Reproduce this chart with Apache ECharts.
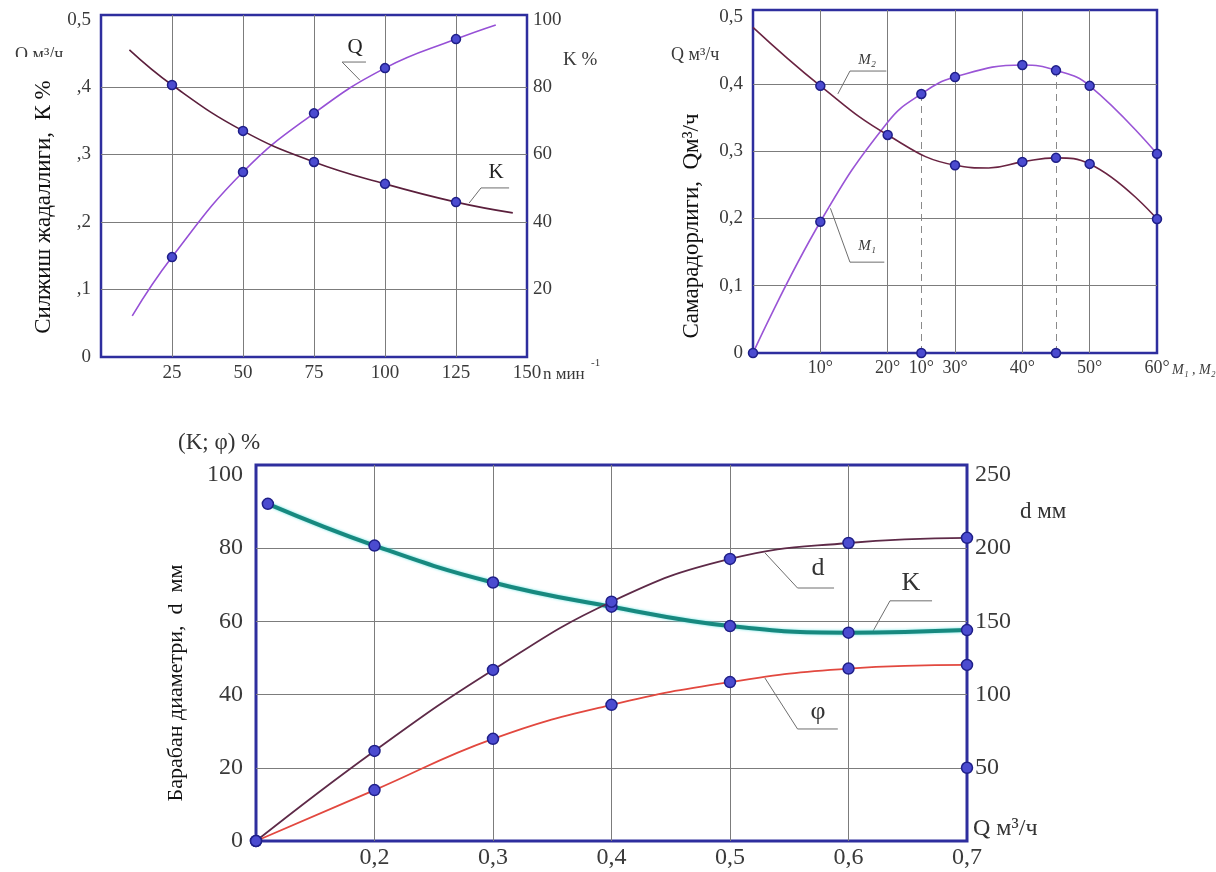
<!DOCTYPE html>
<html>
<head>
<meta charset="utf-8">
<script src="https://cdn.jsdelivr.net/npm/echarts@6/dist/echarts.min.js"></script>
<style>
html,body{margin:0;padding:0;background:#fff}
#c{width:1216px;height:872px}
</style>
</head>
<body>
<div id="c"></div>
<script>
// ---------- Chart 1 (top-left): n, Q and K ----------
const c1_n_Q = [11, 25, 50, 75, 100, 125, 139];
const c1_Q = [0.061, 0.148, 0.274, 0.361, 0.428, 0.471, 0.492];
const c1_Q_marks = [0, 1, 1, 1, 1, 1, 0];
const c1_n_K = [10, 25, 50, 75, 100, 125, 145];
const c1_K = [91, 80.6, 67, 57.8, 51.3, 45.9, 42.7];
const c1_K_marks = [0, 1, 1, 1, 1, 1, 0];
const c1_leaderQ = [[91.2, 0.41], [84.9, 0.437], [93.3, 0.437]];
const c1_leaderK = [[129.6, 45.6], [133.8, 50.1], [143.7, 50.1]];

// ---------- Chart 2 (top-right): angles M1, M2 ----------
const c2_deg_M1 = [0, 10, 20, 25, 30, 40, 45, 50, 60];
const c2_M1 = [0, 0.195, 0.343, 0.385, 0.41, 0.428, 0.42, 0.397, 0.296];
const c2_M1_marks = [1, 1, 0, 1, 1, 1, 1, 1, 1];
const c2_deg_M2 = [0, 10, 20, 30, 35, 40, 45, 50, 60];
const c2_M2 = [0.484, 0.397, 0.324, 0.279, 0.275, 0.284, 0.29, 0.281, 0.199];
const c2_M2_marks = [0, 1, 1, 1, 0, 1, 1, 1, 1];
const c2_axisPts = [[25, 0], [45, 0]];
const c2_dashed = [[25, 0.385], [45, 0.42]];
const c2_tickLabels = {10: '10°', 20: '20°', 25: '10°', 30: '30°', 40: '40°', 50: '50°', 60: '60°'};
const c2_leaderM2 = [[12.6, 0.385], [14.4, 0.419], [19.8, 0.419]];
const c2_leaderM1 = [[11.5, 0.215], [14.4, 0.135], [19.5, 0.135]];

// ---------- Chart 3 (bottom): Q vs K, phi, d ----------
const c3_Q = [0.1, 0.2, 0.3, 0.4, 0.5, 0.6, 0.7];
const c3_Q_K = [0.11, 0.2, 0.3, 0.4, 0.5, 0.6, 0.7];
const c3_K = [92.1, 80.7, 70.6, 64.0, 58.7, 56.9, 57.6];
const c3_phi = [0, 13.9, 27.9, 37.2, 43.4, 47.1, 48.1];
const c3_d = [0, 61.5, 116.8, 163.4, 192.6, 203.5, 207];
const c3_extra_d = [[0.7, 50]];
const c3_leaderD = [[0.5295, 78.7], [0.557, 69.1], [0.5878, 69.1]];
const c3_leaderK = [[0.6198, 56.8], [0.635, 65.6], [0.6705, 65.6]];
const c3_leaderPhi = [[0.5295, 44.5], [0.557, 30.6], [0.591, 30.6]];

// ---------- styling ----------
const SERIF = '"Liberation Serif","Times New Roman","DejaVu Serif",serif';
const NAVY = '#2e2e9e';
const G = '#7c7c7c';
const T = 'rgba(0,0,0,0)';
const TXT = '#3a3a3a';
const MK = '#4b4bd0', MKB = '#1f1f88';

function comma(v, d) { return v.toFixed(d).replace('.', ','); }
function pts(xs, ys, marks) {
  return xs.map((x, i) => ({value: [x, ys[i]], symbol: (marks && !marks[i]) ? 'none' : 'circle'}));
}
function lbl(size, extra) {
  return Object.assign({fontFamily: SERIF, fontSize: size, color: TXT}, extra || {});
}
function curve(name, xi, yi, data, color, width, symSize, extra) {
  return Object.assign({
    name, type: 'line', xAxisIndex: xi, yAxisIndex: yi, data,
    smooth: 0.45, symbolSize: symSize, showSymbol: true,
    lineStyle: {color, width},
    itemStyle: {color: MK, borderColor: MKB, borderWidth: 1.5, opacity: 1},
    z: 5, silent: true, animation: false
  }, extra || {});
}
function leader(xi, yi, data) {
  return {type: 'line', xAxisIndex: xi, yAxisIndex: yi, data, symbol: 'none', smooth: false,
    lineStyle: {color: '#6e6e6e', width: 1}, z: 3, silent: true, animation: false};
}
function dots(xi, yi, data, size, extra) {
  return Object.assign({type: 'scatter', xAxisIndex: xi, yAxisIndex: yi, data, symbolSize: size,
    itemStyle: {color: MK, borderColor: MKB, borderWidth: 1.5, opacity: 1}, z: 8, silent: true,
    animation: false}, extra || {});
}
function txt(x, y, text, size, opts) {
  opts = opts || {};
  return {type: 'text', x, y, rotation: opts.rot || 0, z: opts.z || 120,
    style: {text, fill: opts.color || TXT, font: (opts.style || '') + ' ' + size + 'px ' + SERIF,
      textAlign: opts.align || 'left', textVerticalAlign: opts.va || 'middle'}};
}

const chart = echarts.init(document.getElementById('c'), null, {renderer: 'canvas'});

const option = {
  backgroundColor: '#ffffff',
  animation: false,
  grid: [
    {left: 101, top: 15, width: 426, height: 342, show: true, borderColor: NAVY, borderWidth: 2.5, backgroundColor: T},
    {left: 753, top: 10, width: 404, height: 343, show: true, borderColor: NAVY, borderWidth: 2.5, backgroundColor: T},
    {left: 256, top: 465, width: 711, height: 376, show: true, borderColor: NAVY, borderWidth: 3, backgroundColor: T}
  ],
  xAxis: [
    {gridIndex: 0, type: 'value', min: 0, max: 150, interval: 25,
      axisLine: {show: false}, axisTick: {show: false},
      axisLabel: lbl(19, {margin: 7, showMaxLabel: true, formatter: v => v === 0 ? '' : String(v)}),
      splitLine: {show: true, lineStyle: {color: [T, G, G, G, G, G, T], width: 1}}},
    {gridIndex: 1, type: 'value', min: 0, max: 60, interval: 5,
      axisLine: {show: false}, axisTick: {show: false},
      axisLabel: lbl(18, {margin: 6, showMaxLabel: true, formatter: v => c2_tickLabels[Math.round(v)] || ''}),
      splitLine: {show: false}},
    {gridIndex: 1, type: 'value', min: 0, max: 60, interval: 10, position: 'bottom',
      axisLine: {show: false}, axisTick: {show: false}, axisLabel: {show: false},
      splitLine: {show: true, lineStyle: {color: [T, G, G, G, G, G, T], width: 1}}},
    {gridIndex: 2, type: 'value', min: 0.1, max: 0.7, interval: 0.1,
      axisLine: {show: false}, axisTick: {show: false},
      axisLabel: lbl(24, {margin: 5, showMaxLabel: true, formatter: v => Math.abs(v - 0.1) < 1e-6 ? '' : comma(v, 1)}),
      splitLine: {show: true, lineStyle: {color: [T, G, G, G, G, G, T], width: 1}}}
  ],
  yAxis: [
    {gridIndex: 0, type: 'value', min: 0, max: 0.5067, interval: 0.1, position: 'left',
      axisLine: {show: false}, axisTick: {show: false},
      axisLabel: lbl(19, {margin: 10, formatter: v => v > 0.5001 ? '' : (v === 0 ? '0' : comma(v, 1))}),
      splitLine: {show: true, lineStyle: {color: [T, G, G, G, G, T, T], width: 1}}},
    {gridIndex: 0, type: 'value', min: 0, max: 101.34, interval: 20, position: 'right',
      axisLine: {show: false}, axisTick: {show: false},
      axisLabel: lbl(19, {margin: 6, formatter: v => (v === 0 || v > 100.01) ? '' : String(Math.round(v))}),
      splitLine: {show: false}},
    {gridIndex: 1, type: 'value', min: 0, max: 0.5097, interval: 0.1, position: 'left',
      axisLine: {show: false}, axisTick: {show: false},
      axisLabel: lbl(19, {margin: 10, formatter: v => v > 0.5001 ? '' : (v === 0 ? '0' : comma(v, 1))}),
      splitLine: {show: true, lineStyle: {color: [T, G, G, G, G, T, T], width: 1}}},
    {gridIndex: 2, type: 'value', min: 0, max: 102.7, interval: 20, position: 'left',
      axisLine: {show: false}, axisTick: {show: false},
      axisLabel: lbl(24, {margin: 13, formatter: v => v > 100.01 ? '' : String(Math.round(v))}),
      splitLine: {show: true, lineStyle: {color: [T, G, G, G, G, T, T], width: 1}}},
    {gridIndex: 2, type: 'value', min: 0, max: 256.75, interval: 50, position: 'right',
      axisLine: {show: false}, axisTick: {show: false},
      axisLabel: lbl(24, {margin: 8, formatter: v => (v === 0 || v > 250.01) ? '' : String(Math.round(v))}),
      splitLine: {show: false}}
  ],
  series: [
    // chart 1
    curve('Q', 0, 0, pts(c1_n_Q, c1_Q, c1_Q_marks), '#9650d6', 1.6, 9),
    curve('K', 0, 1, pts(c1_n_K, c1_K, c1_K_marks), '#5b1f3c', 1.6, 9),
    leader(0, 0, c1_leaderQ),
    leader(0, 1, c1_leaderK),
    // chart 2
    curve('M1', 1, 2, pts(c2_deg_M1, c2_M1, c2_M1_marks), '#9a55d6', 1.6, 9),
    curve('M2', 1, 2, pts(c2_deg_M2, c2_M2, c2_M2_marks), '#6a2442', 1.6, 9),
    dots(1, 2, c2_axisPts, 9, {
      markLine: {silent: true, symbol: 'none', label: {show: false}, animation: false,
        lineStyle: {type: [7, 5], color: '#8a8a8a', width: 1},
        data: c2_dashed.map(p => [{coord: [p[0], 0]}, {coord: [p[0], p[1]]}])}}),
    leader(1, 2, c2_leaderM2),
    leader(1, 2, c2_leaderM1),
    // chart 3
    curve('K3', 3, 3, pts(c3_Q_K, c3_K), '#17897f', 4, 11,
      {lineStyle: {color: '#17897f', width: 4, shadowColor: '#6fe3e3', shadowBlur: 3}}),
    curve('d', 3, 4, pts(c3_Q, c3_d), '#5e2a48', 1.8, 11),
    curve('phi', 3, 3, pts(c3_Q, c3_phi), '#e2483f', 1.8, 11),
    dots(3, 4, c3_extra_d, 11),
    leader(3, 3, c3_leaderD),
    leader(3, 3, c3_leaderK),
    leader(3, 3, c3_leaderPhi)
  ],
  graphic: [
    // chart 1 texts
    txt(15, 46, 'Q м³/ч', 18, {va: 'top', z: 50}),
    {type: 'rect', shape: {x: 0, y: 57, width: 77, height: 288}, style: {fill: '#ffffff'}, z: 100},
    txt(44, 207, 'Силжиш жадаллиги,  К %', 23, {rot: Math.PI / 2, align: 'center', color: '#111'}),
    txt(563, 60, 'K %', 19),
    txt(543, 375, 'n мин', 17),
    txt(591, 363, '-1', 11),
    txt(355, 47, 'Q', 21, {align: 'center', color: '#222'}),
    txt(496, 172, 'K', 21, {align: 'center', color: '#222'}),
    // chart 2 texts
    txt(671, 55, 'Q м³/ч', 18),
    txt(692, 226, 'Самарадорлиги,  Qм³/ч', 23, {rot: Math.PI / 2, align: 'center', color: '#111'}),
    txt(1172, 370, 'M₁ , M₂', 14, {style: 'italic'}),
    txt(867, 60, 'M₂', 15, {align: 'center', style: 'italic'}),
    txt(867, 246, 'M₁', 15, {align: 'center', style: 'italic'}),
    // chart 3 texts
    txt(178, 443, '(K; φ) %', 23, {color: '#333'}),
    txt(176, 683, 'Барабан диаметри,  d  мм', 22, {rot: Math.PI / 2, align: 'center', color: '#111'}),
    txt(1020, 512, 'd мм', 23, {color: '#333'}),
    txt(973, 829, 'Q м³/ч', 24, {color: '#333'}),
    txt(818, 568, 'd', 26, {align: 'center', color: '#333'}),
    txt(911, 583, 'K', 26, {align: 'center', color: '#333'}),
    txt(818, 712, 'φ', 26, {align: 'center', color: '#333'})
  ]
};
chart.setOption(option);
</script>
</body>
</html>
